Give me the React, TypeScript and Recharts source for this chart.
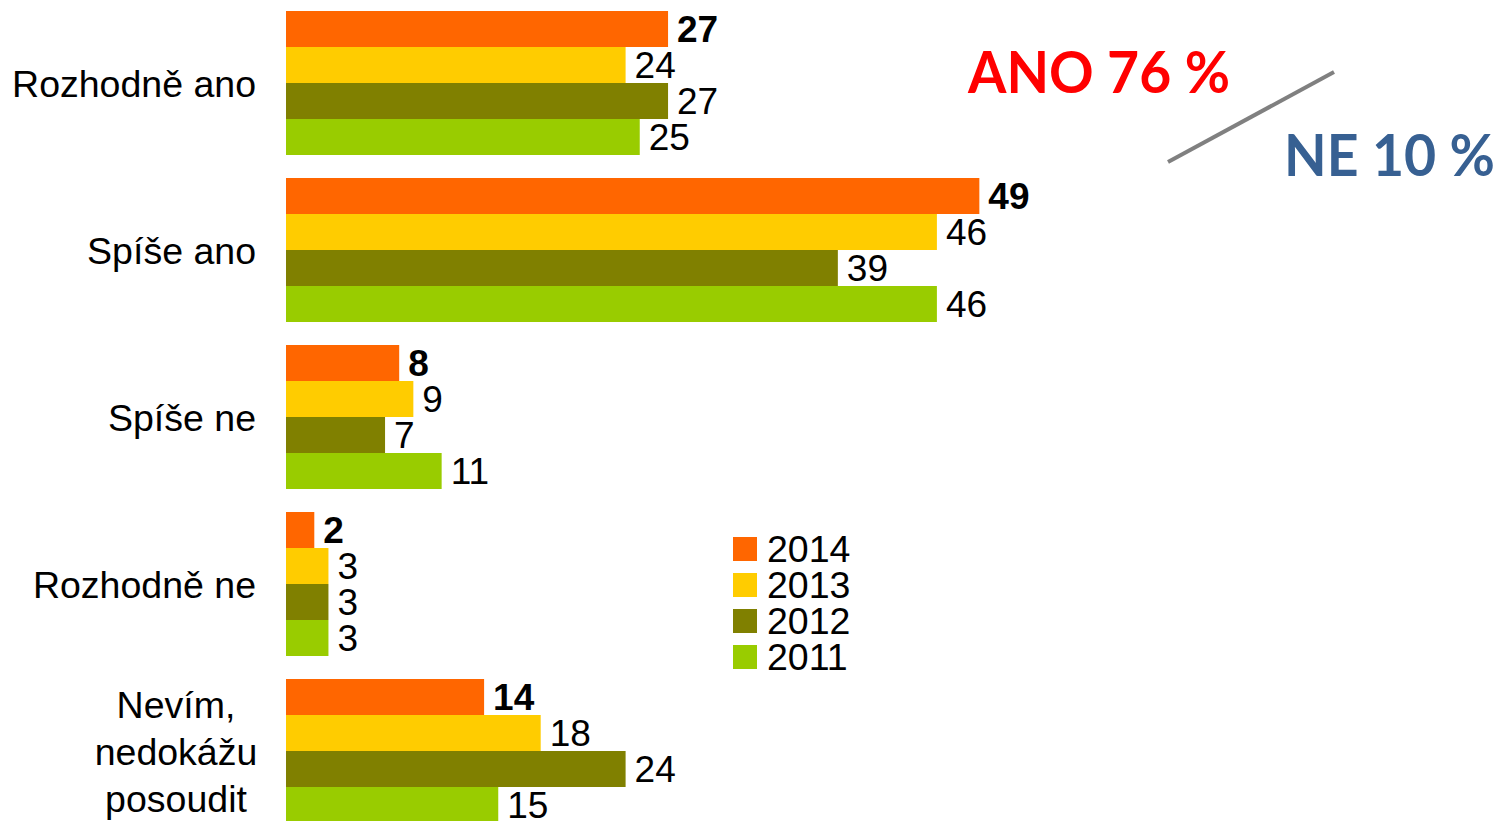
import { BarChart, Bar, XAxis, YAxis, LabelList, Legend } from 'recharts'

const categories = [
  'Rozhodně ano',
  'Spíše ano',
  'Spíše ne',
  'Rozhodně ne',
  'Nevím, nedokážu posoudit',
]
const values2014 = [27, 49, 8, 2, 14]
const values2013 = [24, 46, 9, 3, 18]
const values2012 = [27, 39, 7, 3, 24]
const values2011 = [25, 46, 11, 3, 15]

const years = ['2014', '2013', '2012', '2011']
const colors = ['#FF6600', '#FFCC00', '#808000', '#99CC00']

// wrapped category label
const wrapped: Record<string, string[]> = {
  'Nevím, nedokážu posoudit': ['Nevím,', 'nedokážu', 'posoudit'],
}

const data = categories.map((name, i) => ({
  name,
  y2014: values2014[i],
  y2013: values2013[i],
  y2012: values2012[i],
  y2011: values2011[i],
}))

const series = [
  { key: 'y2014', name: years[0], color: colors[0], bold: true },
  { key: 'y2013', name: years[1], color: colors[1], bold: false },
  { key: 'y2012', name: years[2], color: colors[2], bold: false },
  { key: 'y2011', name: years[3], color: colors[3], bold: false },
]

const font = '"Liberation Sans", Arial, sans-serif'

const CategoryTick = (props: any) => {
  const { x, y, payload } = props
  const lines = wrapped[payload.value]
  if (!lines) {
    return (
      <text x={x} y={y} dy={13} textAnchor='end' fontSize={37.5} fontFamily={font} fill='#000'>
        {payload.value}
      </text>
    )
  }
  return (
    <text x={x - 80} y={y} textAnchor='middle' fontSize={37.5} fontFamily={font} fill='#000'>
      {lines.map((line, i) => (
        <tspan key={line} x={x - 80} y={y + (i - (lines.length - 1) / 2) * 47 + 13}>
          {line}
        </tspan>
      ))}
    </text>
  )
}

const LegendBox = ({ payload }: any) => {
  const items = [...(payload || [])].sort(
    (a: any, b: any) => years.indexOf(a.value) - years.indexOf(b.value)
  )
  return (
    <div style={{ fontFamily: font }}>
      {items.map((p: any) => (
        <div key={p.value} style={{ display: 'flex', alignItems: 'center', height: 36 }}>
          <span style={{ width: 24, height: 24, background: p.color, marginRight: 10 }} />
          <span style={{ fontSize: 37.5, lineHeight: '36px', color: '#000' }}>{p.value}</span>
        </div>
      ))}
    </div>
  )
}

export default function App() {
  return (
    <div style={{ position: 'absolute', left: 0, top: 0, width: 1497, height: 821, overflow: 'hidden', background: '#fff' }}>
      <BarChart
        width={1497}
        height={835}
        data={data}
        layout='vertical'
        margin={{ top: 0, right: 4, left: 0, bottom: 0 }}
        barCategoryGap={11}
        barGap={0}
      >
        <XAxis type='number' domain={[0, 85.3]} hide />
        <YAxis
          type='category'
          dataKey='name'
          width={286}
          axisLine={false}
          tickLine={false}
          tickSize={6}
          tickMargin={24}
          tick={<CategoryTick />}
          interval={0}
        />
        {series.map((s) => (
          <Bar key={s.key} dataKey={s.key} name={s.name} fill={s.color} isAnimationActive={false}>
            <LabelList
              dataKey={s.key}
              position='right'
              offset={9}
              fontSize={37}
              fontFamily={font}
              fill='#000'
              fontWeight={s.bold ? 'bold' : 'normal'}
            />
          </Bar>
        ))}
        <Legend
          layout='vertical'
          align='center'
          verticalAlign='middle'
          content={<LegendBox />}
          wrapperStyle={{ left: 733, top: 531, width: 200, height: 150 }}
        />
      </BarChart>
      <svg width={1497} height={821} style={{ position: 'absolute', left: 0, top: 0, pointerEvents: 'none' }}>
        <text x={968} y={93} fontFamily='Lato, "Open Sans", sans-serif' fontWeight='bold' fontSize={57} fill='#FF0000' textLength={262} lengthAdjust='spacingAndGlyphs'>
          ANO 76 %
        </text>
        <line x1={1168} y1={162} x2={1334} y2={72} stroke='#808080' strokeWidth={4} />
        <text x={1284} y={176} fontFamily='Lato, "Open Sans", sans-serif' fontWeight='bold' fontSize={57} fill='#376092' textLength={211} lengthAdjust='spacingAndGlyphs'>
          NE 10 %
        </text>
      </svg>
    </div>
  )
}
